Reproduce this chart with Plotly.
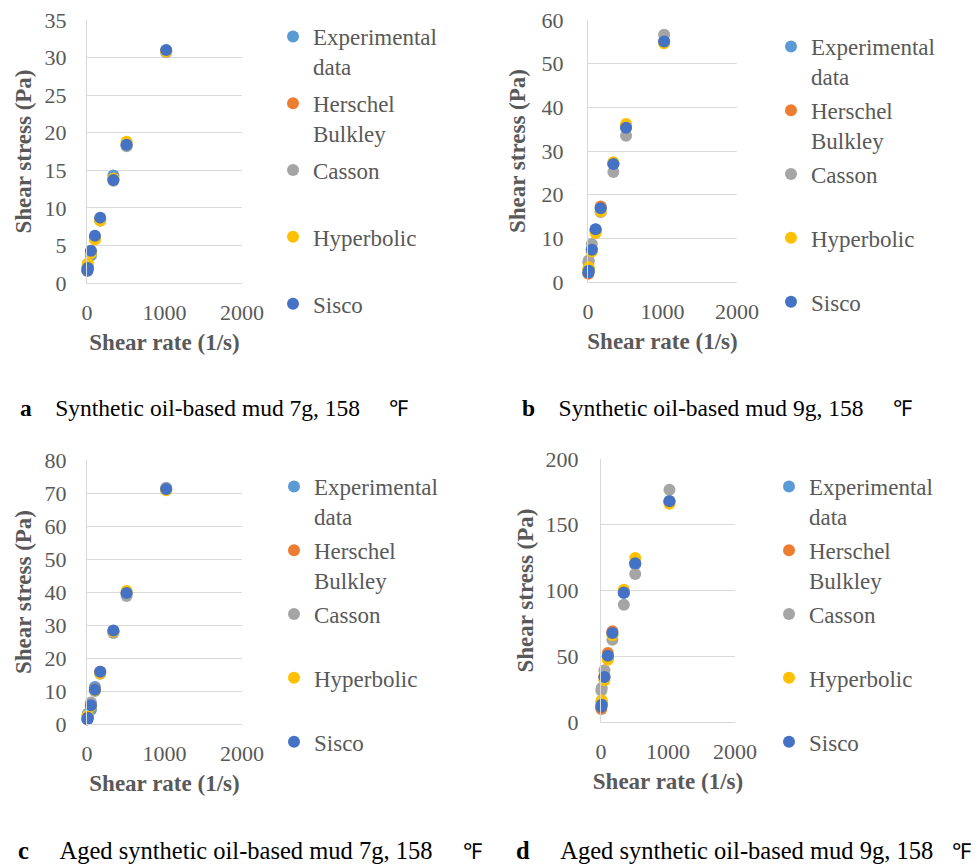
import plotly.graph_objects as go

# Shear rates of the eight rheometer speeds (3, 6, 30, 60, 100, 200, 300, 600 rpm)
shear_rate = [5.11, 10.22, 51.1, 102.2, 170.3, 340.6, 510.9, 1021.8]

series_labels = ["Experimental<br>data", "Herschel<br>Bulkley", "Casson<br>\u00a0",
                 "Hyperbolic<br>\u00a0", "Sisco<br>\u00a0"]
series_colors = ["#5B9BD5", "#ED7D31", "#A5A5A5", "#FFC000", "#4472C4"]

# a: synthetic oil-based mud 7g
a_experimental = [1.6, 2.0, 3.7, 6.0, 8.5, 14.3, 18.3, 30.8]
a_herschel = [1.7, 2.1, 4.1, 6.0, 8.4, 13.8, 18.5, 30.9]
a_casson = [2.0, 2.3, 4.0, 5.9, 8.3, 13.6, 18.2, 30.7]
a_hyperbolic = [2.2, 2.6, 4.0, 5.8, 8.3, 13.9, 18.8, 30.8]
a_sisco = [1.7, 2.0, 4.3, 6.3, 8.7, 13.7, 18.4, 31.0]

# b: synthetic oil-based mud 9g
b_experimental = [2.0, 3.0, 7.5, 12.0, 17.0, 27.0, 35.5, 55.0]
b_herschel = [1.9, 2.7, 7.3, 11.8, 17.3, 27.2, 35.6, 55.0]
b_casson = [4.5, 4.9, 8.7, 11.5, 16.0, 25.2, 33.5, 56.6]
b_hyperbolic = [3.0, 3.4, 7.0, 11.2, 16.2, 27.4, 36.2, 54.7]
b_sisco = [2.2, 2.6, 7.4, 12.1, 16.9, 27.0, 35.3, 55.1]

# c: aged synthetic oil-based mud 7g
c_experimental = [1.5, 3.1, 4.3, 11.2, 15.6, 28.0, 39.5, 71.0]
c_herschel = [1.6, 2.4, 5.5, 10.5, 15.8, 28.1, 39.8, 71.2]
c_casson = [2.2, 2.8, 6.5, 10.0, 15.2, 27.6, 38.8, 71.6]
c_hyperbolic = [2.1, 2.6, 5.4, 10.2, 15.3, 28.0, 40.3, 70.8]
c_sisco = [1.4, 1.9, 5.7, 10.4, 15.8, 28.3, 39.7, 71.2]

# d: aged synthetic oil-based mud 9g
d_experimental = [12.0, 15.0, 34.0, 50.0, 67.0, 98.0, 120.0, 168.0]
d_herschel = [9.9, 13.0, 35.0, 52.5, 69.0, 99.0, 121.0, 167.5]
d_casson = [24.0, 25.9, 39.3, 48.0, 62.6, 89.2, 112.5, 176.7]
d_hyperbolic = [15.0, 16.5, 31.7, 47.4, 65.9, 100.6, 124.7, 166.0]
d_sisco = [11.5, 13.2, 34.2, 50.4, 67.7, 98.4, 120.7, 167.8]

y_ranges = [[0, 35], [0, 60], [0, 80], [0, 200]]
y_dticks = [5, 10, 10, 50]
x_ticks = [0, 1000, 2000]

captions = [
    ("a", "Synthetic oil-based mud 7g, 158"),
    ("b", "Synthetic oil-based mud 9g, 158"),
    ("c", "Aged synthetic oil-based mud 7g, 158"),
    ("d", "Aged synthetic oil-based mud 9g, 158"),
]

panels = [
    [a_experimental, a_herschel, a_casson, a_hyperbolic, a_sisco],
    [b_experimental, b_herschel, b_casson, b_hyperbolic, b_sisco],
    [c_experimental, c_herschel, c_casson, c_hyperbolic, c_sisco],
    [d_experimental, d_herschel, d_casson, d_hyperbolic, d_sisco],
]

W, H = 978, 864
# plot-area boxes in pixels: (left, right, top, bottom)
boxes = [(87, 242, 20, 283), (588, 737, 20, 282), (87, 242, 460, 724), (601, 735, 459, 722)]
ytick_standoff = [15, 19, 15, 17]
ytitle_standoff = [6, 9, 6, 5]
legend_pos = [(273, 15), (771, 25), (274, 465), (769, 465)]
legend_gaps = [4, 1, 1, 1]
# caption placement: (x, y, font size, spaces after the letter, spaces before the unit)
caption_pos = [(18, 408, 23.5, 4, 5), (520, 408, 23.5, 4, 5),
               (16, 850, 24.5, 5, 5), (514, 850, 24.5, 5, 3)]

GREY = "#595959"
SERIF = "Liberation Serif"
NBSP = "\u00a0"

fig = go.Figure()
layout = {}
for i, series in enumerate(panels):
    n = "" if i == 0 else str(i + 1)
    legend_name = "legend" + n
    for j, values in enumerate(series):
        fig.add_trace(go.Scatter(
            x=shear_rate, y=values, mode="markers",
            name=series_labels[j],
            marker=dict(color=series_colors[j], size=12, line=dict(width=0)),
            xaxis="x" + n, yaxis="y" + n,
            legend=legend_name, legendgroup=f"{i}-{j}",
            cliponaxis=False,
        ))
    l, r, t, b = boxes[i]
    layout["xaxis" + n] = dict(
        domain=[l / W, r / W], anchor="y" + n, range=[0, 2000],
        tickvals=x_ticks, showgrid=False, zeroline=False, automargin=False,
        showline=True, linecolor="#D9D9D9", linewidth=1,
        ticks="", ticklabelstandoff=10,
        tickfont=dict(family=SERIF, size=22, color=GREY),
        title=dict(text="<b>Shear rate (1/s)</b>", standoff=9,
                   font=dict(family=SERIF, size=23, color=GREY)),
    )
    layout["yaxis" + n] = dict(
        domain=[1 - b / H, 1 - t / H], anchor="x" + n, range=y_ranges[i],
        dtick=y_dticks[i], showgrid=True, gridcolor="#D9D9D9", gridwidth=1,
        zeroline=False, showline=True, linecolor="#D9D9D9", linewidth=1,
        automargin=False, ticks="", ticklabelstandoff=ytick_standoff[i],
        tickfont=dict(family=SERIF, size=22, color=GREY),
        title=dict(text="<b>Shear stress (Pa)</b>", standoff=ytitle_standoff[i],
                   font=dict(family=SERIF, size=23, color=GREY)),
    )
    lx, ly = legend_pos[i]
    layout[legend_name] = dict(
        x=lx / W, y=1 - ly / H, xanchor="left", yanchor="top",
        bgcolor="rgba(0,0,0,0)", borderwidth=0,
        font=dict(family=SERIF, size=23, color=GREY),
        valign="top", itemsizing="constant", traceorder="grouped",
        tracegroupgap=legend_gaps[i],
    )

annotations = []
for i, (letter, text) in enumerate(captions):
    cx, cy, fsize, gap, unit_gap = caption_pos[i]
    annotations.append(dict(
        xref="paper", yref="paper", x=cx / W, y=1 - cy / H,
        xanchor="left", yanchor="middle", showarrow=False,
        text=(f"<b>{letter}</b>{NBSP * gap}{text}{NBSP * unit_gap}"
              f"<span style='font-size:22px'>℉</span>"),
        font=dict(family=SERIF, size=fsize, color="#000000"),
    ))

fig.update_layout(
    width=W, height=H,
    margin=dict(l=0, r=0, t=0, b=0, autoexpand=False),
    paper_bgcolor="white", plot_bgcolor="white",
    font=dict(family=SERIF, color=GREY),
    showlegend=True,
    annotations=annotations,
    **layout,
)

fig.write_html("out.html")
